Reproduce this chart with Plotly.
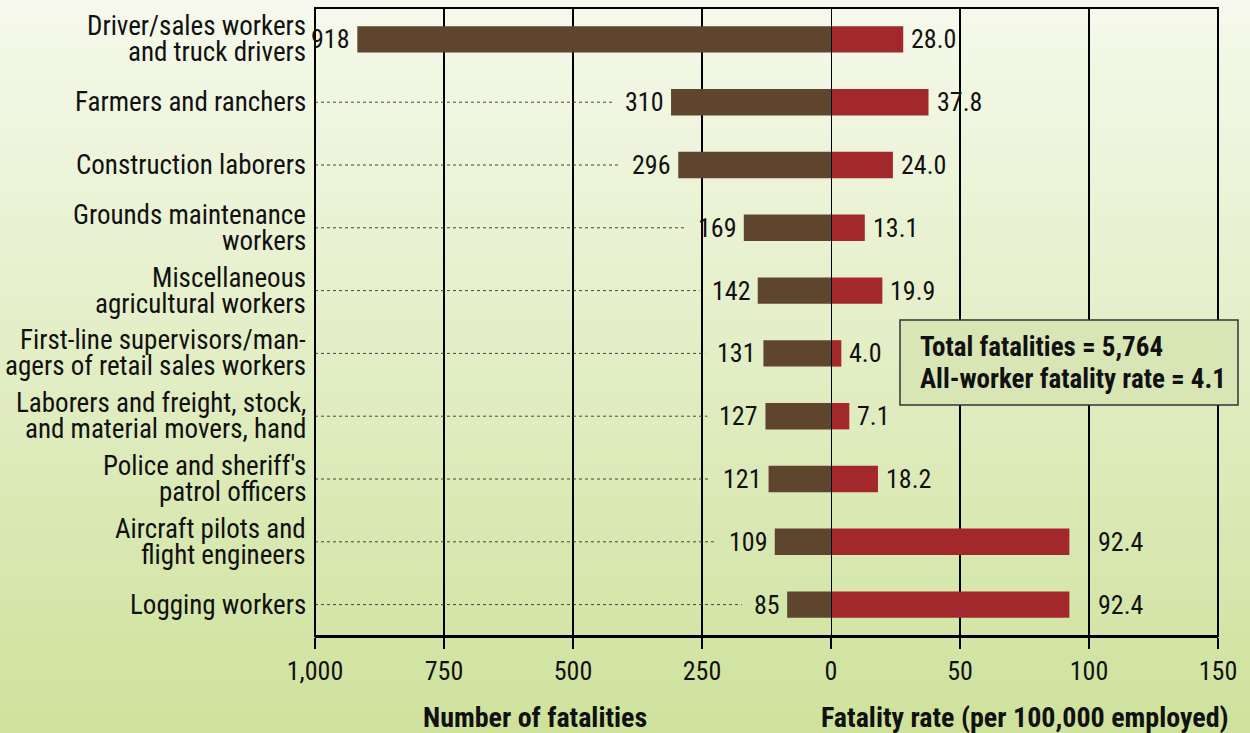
import plotly.graph_objects as go

# ---------------- data ----------------
categories = [
    "Driver/sales workers<br>and truck drivers",
    "Farmers and ranchers",
    "Construction laborers",
    "Grounds maintenance<br>workers",
    "Miscellaneous<br>agricultural workers",
    "First-line supervisors/man-<br>agers of retail sales workers",
    "Laborers and freight, stock,<br>and material movers, hand",
    "Police and sheriff's<br>patrol officers",
    "Aircraft pilots and<br>flight engineers",
    "Logging workers",
]
fatalities = [918, 310, 296, 169, 142, 131, 127, 121, 109, 85]
fatality_rate = [28.0, 37.8, 24.0, 13.1, 19.9, 4.0, 7.1, 18.2, 92.4, 92.4]
left_ticks = [1000, 750, 500, 250, 0]
right_ticks = [50, 100, 150]
left_title = "Number of fatalities"
right_title = "Fatality rate (per 100,000 employed)"
summary_lines = ["Total fatalities = 5,764", "All-worker fatality rate = 4.1"]

# ---------------- styling / layout constants ----------------
W, H = 1250, 733
ML, MR, MT, MB = 315, 32, 8, 97
PW, PH = W - ML - MR, H - MT - MB
LEFT_MAX, RIGHT_MAX = 1000, 150
LEFT_PX = 516  # width of left panel in px
split = LEFT_PX / PW
px_per_left = LEFT_PX / LEFT_MAX
px_per_right = (PW - LEFT_PX) / RIGHT_MAX

FONT = "Liberation Sans Narrow, Arial Narrow, Roboto Condensed, sans-serif"
BROWN = "#60452e"
RED = "#a3282c"
TXT = "#111111"

fig = go.Figure()
fig.add_trace(go.Bar(
    y=categories, x=fatalities, orientation="h", xaxis="x", yaxis="y",
    marker=dict(color=BROWN, line=dict(width=0)), width=0.42, hoverinfo="x+y",
))
fig.add_trace(go.Bar(
    y=categories, x=fatality_rate, orientation="h", xaxis="x2", yaxis="y",
    marker=dict(color=RED, line=dict(width=0)), width=0.42, hoverinfo="x+y",
))

shapes = []
# background vertical gradient
top_c = (246, 249, 236)
bot_c = (206, 226, 156)
N = 90
for i in range(N):
    y0px = H * i / N
    y1px = H * (i + 1) / N
    t = (i + 0.5) / N
    c = tuple(round(top_c[k] + (bot_c[k] - top_c[k]) * t) for k in range(3))
    shapes.append(dict(
        type="rect", xref="paper", yref="paper", layer="below",
        x0=-1, x1=2,
        y0=(H - MB - y1px) / PH - 0.001, y1=(H - MB - y0px) / PH + 0.001,
        fillcolor="rgb(%d,%d,%d)" % c, line=dict(width=0),
    ))

# dotted leader lines
annotations = []
for cat, v in zip(categories, fatalities):
    label_w = len(str(v)) * 12.7
    end_val = v + (7 + label_w + 13) / px_per_left
    if end_val < LEFT_MAX:
        shapes.append(dict(
            type="line", xref="x", yref="y", layer="above",
            x0=LEFT_MAX, x1=end_val, y0=cat, y1=cat,
            line=dict(color="#444444", width=1, dash="dot"),
        ))

# zero divider and frame
shapes.append(dict(type="line", xref="x2", yref="paper", x0=0, x1=0, y0=0, y1=1,
                   layer="above", line=dict(color="black", width=2)))
shapes.append(dict(type="rect", xref="paper", yref="paper", x0=0, x1=1, y0=0, y1=1,
                   layer="above", line=dict(color="black", width=2)))

# summary box
bx0, bx1, by0, by1 = 900, 1238, 320, 405
shapes.append(dict(
    type="rect", xref="paper", yref="paper", layer="above",
    x0=(bx0 - ML) / PW, x1=(bx1 - ML) / PW,
    y0=(H - MB - by1) / PH, y1=(H - MB - by0) / PH,
    fillcolor="#d8e5b4", line=dict(color="#333333", width=1.5),
))
for i, line in enumerate(summary_lines):
    annotations.append(dict(
        text="<b>%s</b>" % line, xref="paper", yref="paper",
        x=(918 - ML) / PW, y=(H - MB - (347 + 32 * i)) / PH,
        xanchor="left", yanchor="middle", showarrow=False,
        font=dict(family=FONT, size=27, color=TXT),
    ))

# category labels
for cat in categories:
    lines = cat.split("<br>")
    n = len(lines)
    for j, ln in enumerate(lines):
        annotations.append(dict(
            text=ln, xref="paper", yref="y", x=0, y=cat,
            xanchor="right", yanchor="middle", xshift=-7,
            yshift=(n - 1) * 13 - 26 * j,
            showarrow=False, font=dict(family=FONT, size=27, color=TXT),
        ))

# value labels
for cat, v in zip(categories, fatalities):
    annotations.append(dict(
        text=str(v), xref="x", yref="y", x=v, y=cat,
        xanchor="right", yanchor="middle", xshift=-5,
        showarrow=False, font=dict(family=FONT, size=26, color=TXT),
    ))
for cat, v in zip(categories, fatality_rate):
    x, shift = v, 6
    if v < 100 and v + (6 + 46) / px_per_right > 100:
        x, shift = 100, 7
    annotations.append(dict(
        text="%.1f" % v, xref="x2", yref="y", x=x, y=cat,
        xanchor="left", yanchor="middle", xshift=shift,
        showarrow=False, font=dict(family=FONT, size=26, color=TXT),
    ))

# axis titles
annotations.append(dict(
    text="<b>%s</b>" % left_title, xref="paper", yref="paper",
    x=(535 - ML) / PW, y=(H - MB - 717) / PH, xanchor="center", yanchor="middle",
    showarrow=False, font=dict(family=FONT, size=28, color=TXT),
))
annotations.append(dict(
    text="<b>%s</b>" % right_title, xref="paper", yref="paper",
    x=(1025 - ML) / PW, y=(H - MB - 717) / PH, xanchor="center", yanchor="middle",
    showarrow=False, font=dict(family=FONT, size=28, color=TXT),
))

axis_common = dict(
    showgrid=True, gridcolor="black", gridwidth=2, zeroline=False,
    showline=True, linecolor="black", linewidth=2,
    ticks="outside", ticklen=11, tickwidth=2, tickcolor="black",
    tickfont=dict(family=FONT, size=26, color=TXT), tickformat=",d",
    fixedrange=True,
)
fig.update_layout(
    width=W, height=H,
    margin=dict(l=ML, r=MR, t=MT, b=MB),
    paper_bgcolor="rgb(%d,%d,%d)" % top_c,
    plot_bgcolor="rgba(0,0,0,0)",
    showlegend=False,
    bargap=0.5,
    xaxis=dict(domain=[0, split], range=[LEFT_MAX, 0], tickvals=left_ticks,
               anchor="y", **axis_common),
    xaxis2=dict(domain=[split, 1], range=[0, RIGHT_MAX], tickvals=right_ticks,
                anchor="y", **axis_common),
    yaxis=dict(categoryorder="array", categoryarray=categories,
               range=[len(categories) - 0.5, -0.5], showticklabels=False,
               showgrid=False, zeroline=False, ticks="", fixedrange=True),
    shapes=shapes,
    annotations=annotations,
    font=dict(family=FONT, color=TXT),
)

fig.write_html(
    "out.html",
    config={"displayModeBar": False},
    post_script="document.body.style.margin='0';document.body.style.overflow='hidden';",
)
